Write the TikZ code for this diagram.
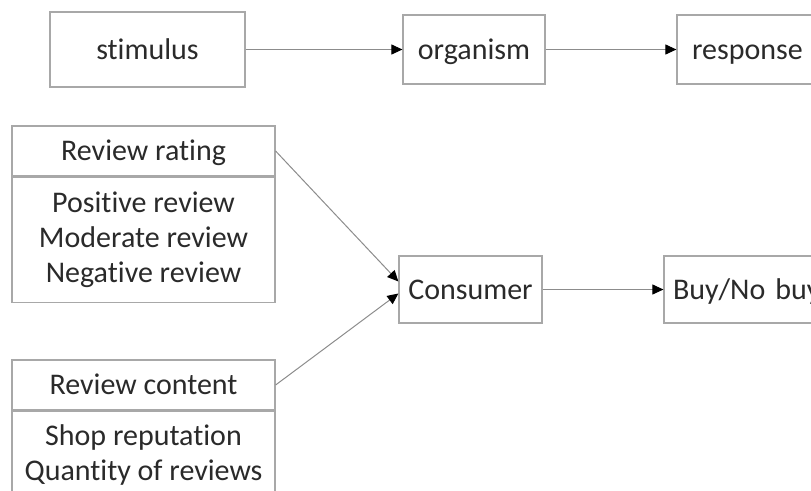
\documentclass[tikz,border=0pt]{standalone}
\usepackage{fontspec}
\setmainfont[Ligatures=NoCommon]{Carlito}
\usetikzlibrary{arrows.meta}
\definecolor{txt}{HTML}{2A2A2A}
\definecolor{boxline}{HTML}{A8A8A8}
\definecolor{conn}{HTML}{8C8C8C}
\tikzset{
  box/.style={draw=boxline, line width=1.2pt, rectangle, inner sep=0pt,
    text=txt, font=\fontsize{30}{35}\selectfont, text height=19.5pt, text depth=0pt},
  bodybox/.style={draw=boxline, line width=1.2pt, rectangle, inner sep=0pt,
    text=txt, font=\fontsize{30}{35}\selectfont, align=center},
  conn/.style={draw=conn, line width=1pt, -{Triangle[length=11pt,width=10pt,fill=black,color=black]}},
}
\begin{document}
\begin{tikzpicture}[x=1pt,y=-1pt]
\useasboundingbox (0,0) rectangle (811,490);
\clip (0,0) rectangle (811,490);
% top row
\node[box, minimum width=195pt, minimum height=75pt] (stim) at (147.5,49.5) {stimulus};
\node[box, minimum width=142pt, minimum height=69pt] (org) at (474,49.5) {organism};
\node[box, minimum width=200pt, minimum height=69pt, text width=180pt, align=left] (resp) at (777,49.5) {\hspace*{5pt}response};
\draw[conn] (stim.east) -- (org.west);
\draw[conn] (org.east) -- (resp.west);
% review rating
\node[box, minimum width=263pt, minimum height=50pt] (rrh) at (143.5,151) {Review rating};
\node[bodybox, minimum width=263pt, minimum height=125pt, anchor=north] (rrb) at (rrh.south) {Positive review\\Moderate review\\Negative review};
% review content
\node[box, minimum width=263pt, minimum height=50pt] (rch) at (143.5,385) {Review content};
\node[bodybox, minimum width=263pt, minimum height=88pt, anchor=north] (rcb) at (rch.south) {Shop reputation\\Quantity of reviews};
% consumer row
\node[box, minimum width=143pt, minimum height=67pt] (cons) at (470.5,289.5) {Consumer};
\node[box, minimum width=200pt, minimum height=67pt, text width=196pt, align=left] (buy) at (764,289.5) {\hspace*{7pt}Buy/No buy};
\draw[conn] (cons.east) -- (buy.west);
\draw[conn] (rrh.east) -- ([yshift=8pt]cons.west);
\draw[conn] (rch.east) -- ([yshift=-4pt]cons.west);
\end{tikzpicture}
\end{document}
